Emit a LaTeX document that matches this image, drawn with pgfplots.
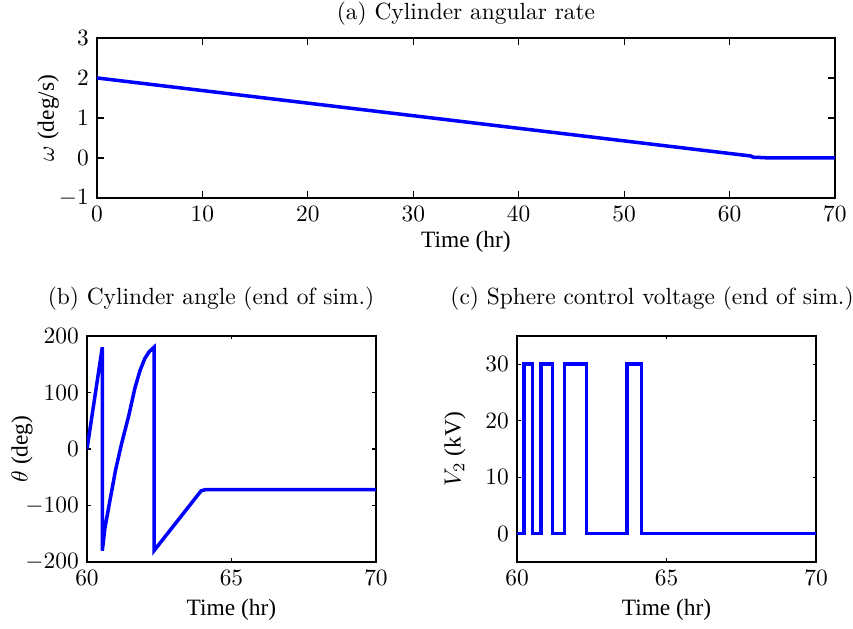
\documentclass[border=0pt]{standalone}
\usepackage{fontspec}
\usepackage{pgfplots}
\pgfplotsset{compat=1.18}
\newfontfamily\timesf{Liberation Serif}
\definecolor{lineblue}{RGB}{20,0,255}
\pgfplotsset{
  mystyle/.style={
    scale only axis,
    anchor=south west,
    axis line style={line width=0.8pt},
    tick align=inside,
    tick pos=both,
    every tick/.style={black,line width=0.5pt},
    xlabel style={font=\timesf, anchor=center},
    ylabel style={font=\timesf, anchor=center},
    every axis plot/.append style={line width=1.5pt, color=lineblue, no markers},
  }
}
\begin{document}
\begin{tikzpicture}[x=0.4274pt,y=0.4274pt]
\useasboundingbox (0,0) rectangle (853,629);
% (a)
\begin{axis}[mystyle,
  at={(41.46pt,184.21pt)}, width=315.4pt, height=68.4pt,
  xmin=0, xmax=70, ymin=-1, ymax=3,
  xtick={0,10,...,70}, ytick={-1,0,1,2,3},
  major tick length=3pt,
  xlabel={Time (hr)}, ylabel={$\omega$ (deg/s)},
  xlabel style={at={(axis description cs:0.5,-0.275)}},
  ylabel style={at={(axis description cs:-0.066,0.5)}},
]
\addplot coordinates {(0,2.0) (62.0,0.05) (62.3,0.015) (63.3,0.01) (63.5,0.0) (70,0.0)};
\end{axis}
% (b)
\begin{axis}[mystyle,
  at={(37.18pt,28.64pt)}, width=123.5pt, height=96.6pt,
  xmin=60, xmax=70, ymin=-200, ymax=200,
  xtick={60,65,70}, ytick={-200,-100,0,100,200},
  major tick length=1.5pt,
  xlabel={Time (hr)}, ylabel={$\theta$ (deg)},
  xlabel style={at={(axis description cs:0.5,-0.212)}},
  ylabel style={at={(axis description cs:-0.225,0.5)}},
]
\addplot coordinates {
(60.0,0) (60.53,180) (60.53,-180)
(60.62,-140) (60.78,-95) (60.99,-37) (61.2,10) (61.45,60) (61.66,108)
(61.83,138) (62.0,160) (62.15,172) (62.32,180) (62.32,-180)
(63.95,-74) (64.1,-72) (70,-72)};
\end{axis}
% (c)
\begin{axis}[mystyle,
  at={(220.97pt,28.64pt)}, width=127.8pt, height=96.6pt,
  xmin=60, xmax=70, ymin=-5, ymax=35,
  xtick={60,65,70}, ytick={0,10,20,30},
  major tick length=1.5pt,
  xlabel={Time (hr)}, ylabel={$V_2$ (kV)},
  xlabel style={at={(axis description cs:0.5,-0.212)}},
  ylabel style={at={(axis description cs:-0.207,0.5)}},
]
\addplot coordinates {
(60,0) (60.23,0) (60.23,30) (60.52,30) (60.52,0) (60.80,0) (60.80,30)
(61.18,30) (61.18,0) (61.58,0) (61.58,30) (62.32,30) (62.32,0)
(63.67,0) (63.67,30) (64.16,30) (64.16,0) (70,0)};
\end{axis}
\node[anchor=base] at (466,609) {(a) Cylinder angular rate};
\node[anchor=base] at (211,324) {(b) Cylinder angle (end of sim.)};
\node[anchor=base] at (652,324) {(c) Sphere control voltage (end of sim.)};
\end{tikzpicture}
\end{document}
